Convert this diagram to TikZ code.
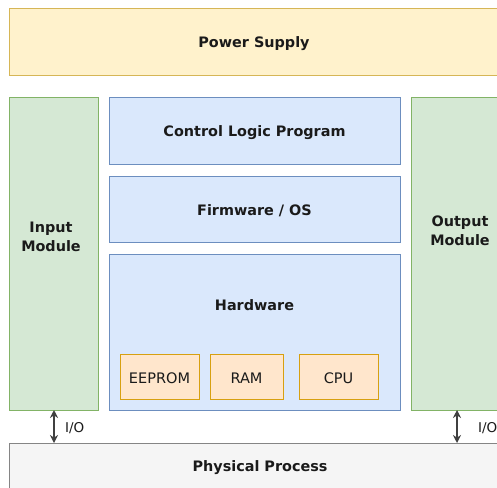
\documentclass[tikz,border=0pt]{standalone}
\usepackage{fontspec}
\setmainfont{DejaVu Sans}
\usetikzlibrary{arrows.meta}
\definecolor{ylwF}{HTML}{FFF2CC}\definecolor{ylwD}{HTML}{D6B656}
\definecolor{grnF}{HTML}{D5E8D4}\definecolor{grnD}{HTML}{82B366}
\definecolor{bluF}{HTML}{DAE8FC}\definecolor{bluD}{HTML}{6C8EBF}
\definecolor{orgF}{HTML}{FFE6CC}\definecolor{orgD}{HTML}{D79B00}
\definecolor{gryF}{HTML}{F5F5F5}\definecolor{gryD}{HTML}{666666}
\definecolor{txt}{HTML}{1A1A1A}
\begin{document}
\begin{tikzpicture}[x=1pt,y=-1pt,
  box/.style={line width=0.9pt,inner sep=0pt},
  ylw/.style={box,draw=ylwD,fill=ylwF},
  grn/.style={box,draw=grnD,fill=grnF},
  blu/.style={box,draw=bluD,fill=bluF},
  org/.style={box,draw=orgD!80!ylwD,fill=orgF},
  gry/.style={box,draw=gryD!80,fill=gryF},
  io/.style={{Stealth[length=8pt,width=8pt]}-{Stealth[length=8pt,width=8pt]},line width=1.4pt,draw=black!75},
  lab/.style={align=center,text=txt,inner sep=0pt,font=\fontsize{14.4}{19}\selectfont\bfseries},
  clab/.style={text=txt,inner sep=0pt,font=\fontsize{14.5}{17}\selectfont},
  iolab/.style={font=\fontsize{13.5}{16}\selectfont,text=txt,inner sep=0pt,anchor=west}]
\useasboundingbox (0,0) rectangle (497,487);
\clip (0,0) rectangle (497,487);
\fill[white] (0,0) rectangle (497,487);
\node[ylw,minimum width=490pt,minimum height=67pt] (ps) at (254,41.5) {};
\node[lab] (psl) at (254,43.5) {Power Supply};
\node[grn,minimum width=89pt,minimum height=313pt] (in) at (53.5,253.5) {};
\node[lab] (inl) at (51,236.5) {Input\\Module};
\node[grn,minimum width=98pt,minimum height=313pt] (out) at (460,253.5) {};
\node[lab] (outl) at (460,230.5) {Output\\Module};
\node[blu,minimum width=291pt,minimum height=67pt] (clp) at (254.5,130.5) {};
\node[lab] (clpl) at (254.5,132.5) {Control Logic Program};
\node[blu,minimum width=291pt,minimum height=66pt] (fw) at (254.5,209) {};
\node[lab] (fwl) at (254.5,211) {Firmware / OS};
\node[blu,minimum width=291pt,minimum height=156pt] (hw) at (254.5,332) {};
\node[lab] (hwl) at (254.5,305) {Hardware};
\node[org,minimum width=79pt,minimum height=45pt] (ee) at (159.5,376.5) {};
\node[org,minimum width=73pt,minimum height=45pt] (ram) at (246.5,376.5) {};
\node[org,minimum width=79pt,minimum height=45pt] (cpu) at (338.5,376.5) {};
\node[clab] (eel) at (159.5,378) {EEPROM};
\node[clab] (raml) at (246.5,378) {RAM};
\node[clab] (cpul) at (338.5,378) {CPU};
\node[gry,minimum width=502pt,minimum height=48pt] (pp) at (260,467) {};
\node[lab] (ppl) at (260,467.5) {Physical Process};
\coordinate (a1t) at (54,410); \coordinate (a1b) at (54,443);
\coordinate (a2t) at (457,410); \coordinate (a2b) at (457,443);
\draw[io] (a1t) -- (a1b);
\draw[io] (a2t) -- (a2b);
\node[iolab] (l1) at (65,428) {I/O};
\node[iolab] (l2) at (478,428) {I/O};
\end{tikzpicture}
\end{document}
